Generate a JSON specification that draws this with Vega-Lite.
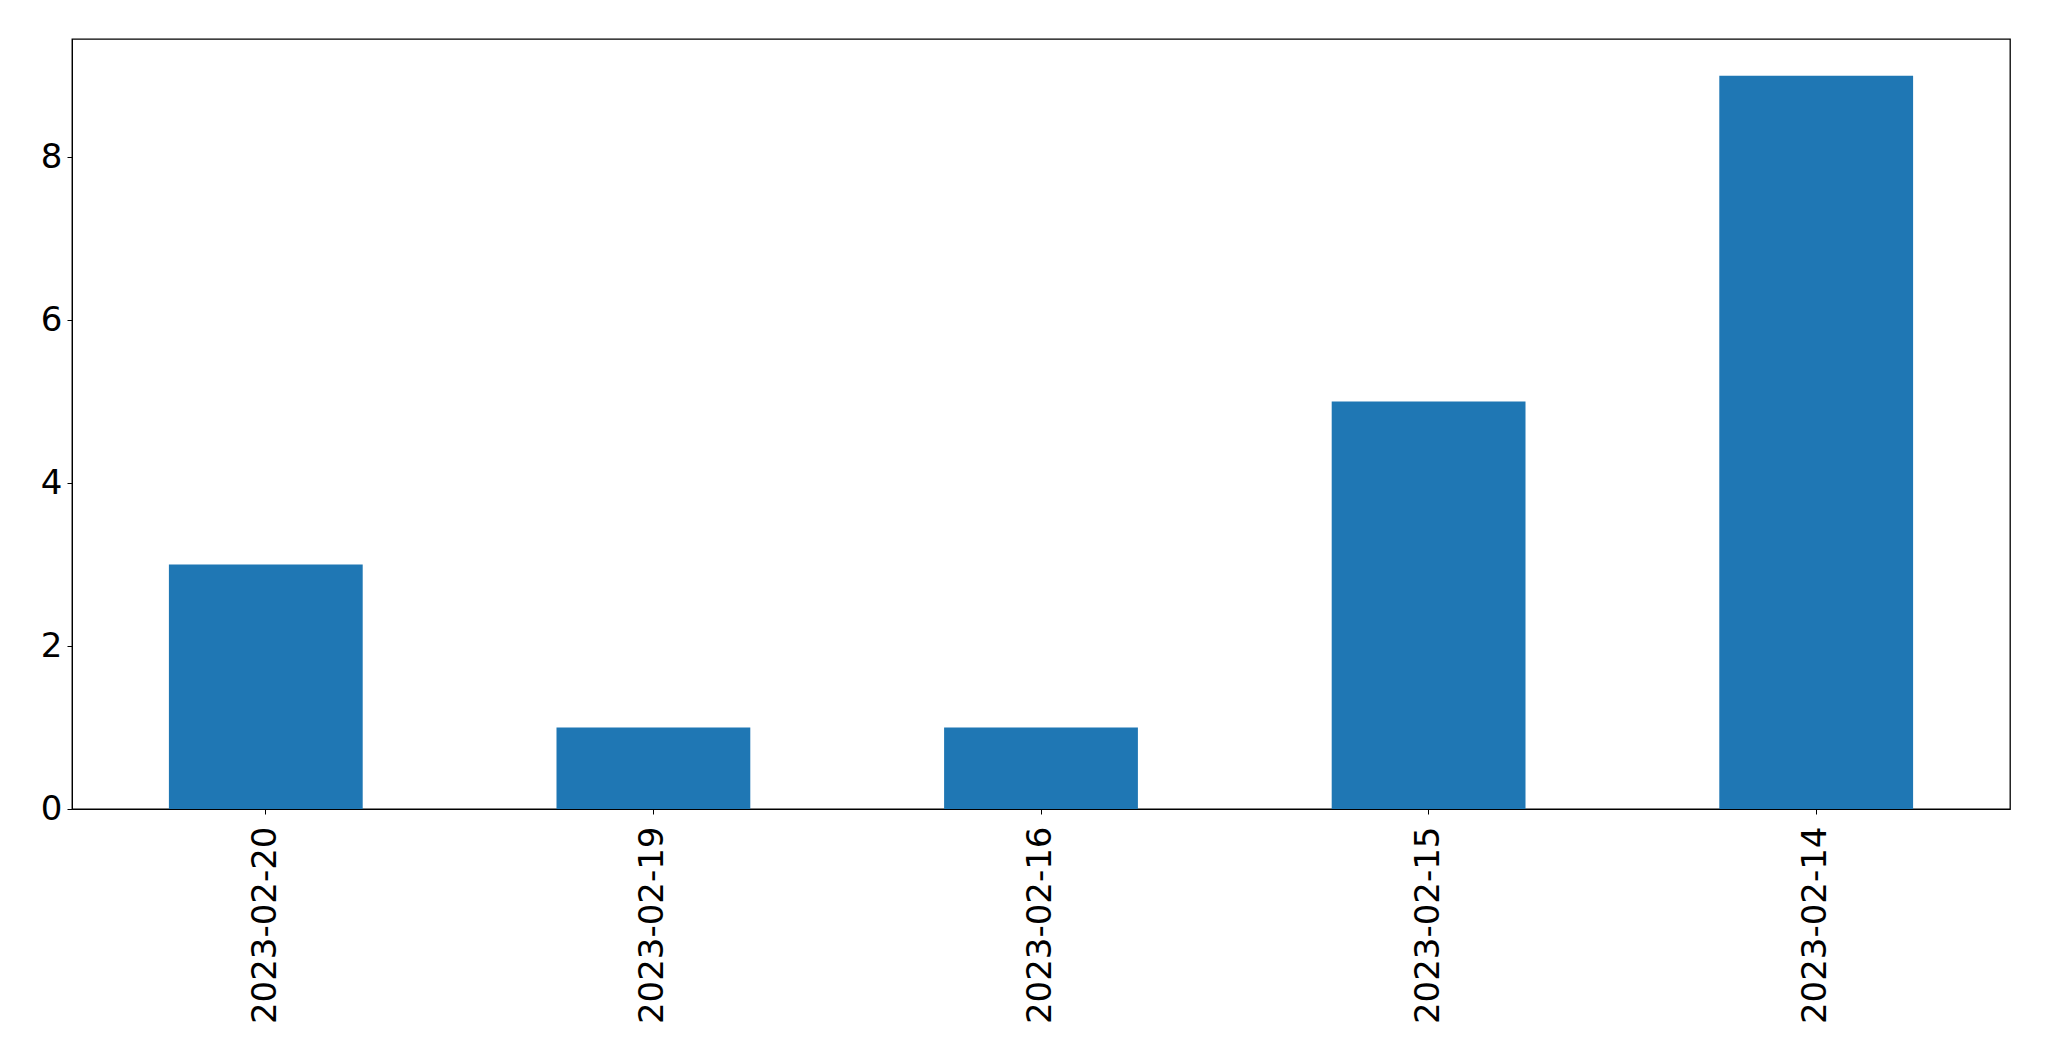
{
  "$schema": "https://vega.github.io/schema/vega-lite/v6.json",
  "width": 1938,
  "height": 770,
  "autosize": {"type": "none"},
  "padding": {"left": 72, "top": 39, "right": 39, "bottom": 252},
  "background": "white",
  "config": {
    "view": {"stroke": "black", "strokeWidth": 1.3},
    "font": "DejaVu Sans"
  },
  "data": {
    "values": [
      {"date": "2023-02-20", "count": 3},
      {"date": "2023-02-19", "count": 1},
      {"date": "2023-02-16", "count": 1},
      {"date": "2023-02-15", "count": 5},
      {"date": "2023-02-14", "count": 9}
    ]
  },
  "mark": {"type": "bar", "color": "#1f77b4"},
  "encoding": {
    "x": {
      "field": "date",
      "type": "nominal",
      "sort": null,
      "scale": {"paddingInner": 0.5, "paddingOuter": 0.25},
      "axis": {
        "title": null,
        "labelAngle": -90,
        "labelFont": "DejaVu Sans",
        "labelFontSize": 34,
        "labelLimit": 0,
        "labelColor": "black",
        "labelPadding": 12,
        "tickSize": 5,
        "tickColor": "black",
        "domainColor": "black",
        "grid": false
      }
    },
    "y": {
      "field": "count",
      "type": "quantitative",
      "scale": {"domain": [0, 9.45], "nice": false, "zero": true},
      "axis": {
        "title": null,
        "values": [0, 2, 4, 6, 8],
        "labelFont": "DejaVu Sans",
        "labelFontSize": 34,
        "labelColor": "black",
        "labelPadding": 5,
        "tickSize": 5,
        "tickColor": "black",
        "domainColor": "black",
        "grid": false
      }
    }
  }
}
